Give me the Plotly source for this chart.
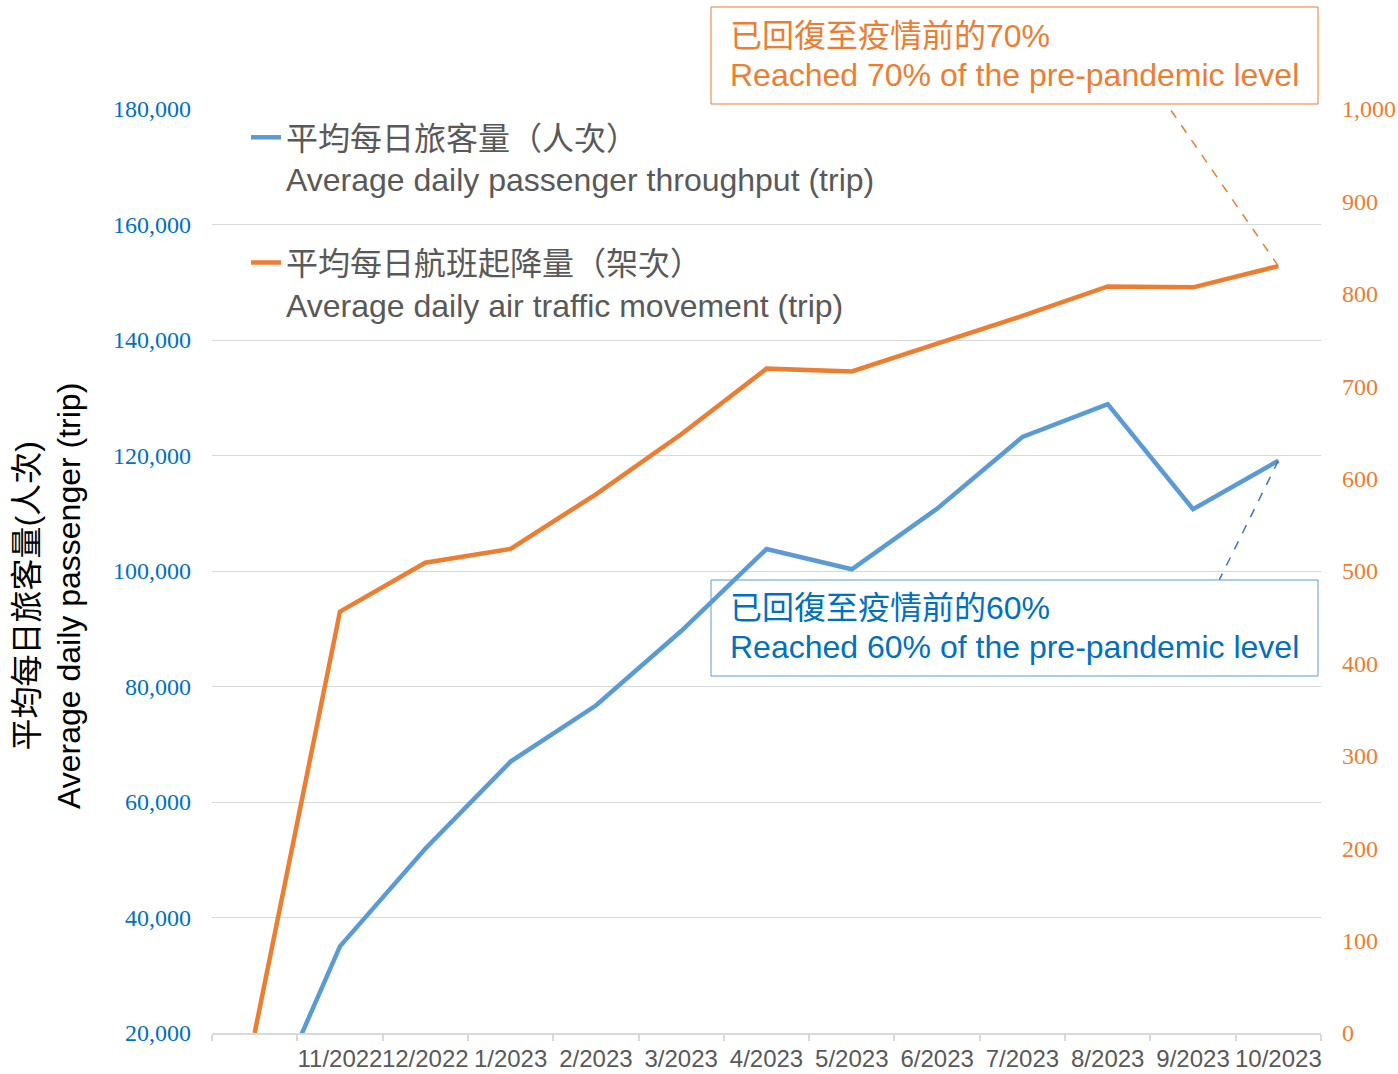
import plotly.graph_objects as go

# ---- data ----
categories = ["10/2022", "11/2022", "12/2022", "1/2023", "2/2023", "3/2023", "4/2023",
              "5/2023", "6/2023", "7/2023", "8/2023", "9/2023", "10/2023"]
tick_labels = ["", "11/2022", "12/2022", "1/2023", "2/2023", "3/2023", "4/2023",
               "5/2023", "6/2023", "7/2023", "8/2023", "9/2023", "10/2023"]
passengers = [1200, 35000, 51900, 67000, 76700, 89600, 103800,
              100300, 110800, 123200, 128900, 110700, 119100]
movements = [0, 456, 509, 524, 583, 648, 719,
             716, 746, 776, 808, 807, 830]

left_ticks = [20000, 40000, 60000, 80000, 100000, 120000, 140000, 160000, 180000]
right_ticks = [0, 100, 200, 300, 400, 500, 600, 700, 800, 900, 1000]

name_pax = "平均每日旅客量（人次）<br>Average daily passenger throughput (trip)"
name_atm = "平均每日航班起降量（架次）<br>Average daily air traffic movement (trip)"
note_atm = ["已回復至疫情前的70%", "Reached 70% of the pre-pandemic level"]
note_pax = ["已回復至疫情前的60%", "Reached 60% of the pre-pandemic level"]
ytitle = "平均每日旅客量(人次)<br>Average daily passenger (trip)"

# ---- styles ----
BLUE = "#5B9BD5"
ORANGE = "#ED7D31"
TXT_BLUE = "#0070C0"
GRAY = "#595959"
GRID = "#D9D9D9"
SANS = "Liberation Sans, Arial, Noto Sans CJK TC, sans-serif"
SERIF = "Liberation Serif, Times New Roman, serif"

W, H = 1398, 1074
ML, MR, MT, MB = 212, 77, 109, 41
PW, PH = W - ML - MR, H - MT - MB


def px(x):
    return (x - ML) / PW


def py(y):
    return (H - MB - y) / PH


fig = go.Figure()
fig.add_trace(go.Scatter(x=categories, y=passengers, name=name_pax, mode="lines",
                         line=dict(color=BLUE, width=4.5), yaxis="y", legendgroup="a"))
fig.add_trace(go.Scatter(x=categories, y=movements, name=name_atm, mode="lines",
                         line=dict(color=ORANGE, width=4.5), yaxis="y2", legendgroup="b"))

shapes = [
    # annotation boxes
    dict(type="rect", xref="paper", yref="paper", x0=px(711), x1=px(1318), y0=py(104), y1=py(7),
         line=dict(color=ORANGE, width=1), fillcolor="rgba(0,0,0,0)"),
    dict(type="rect", xref="paper", yref="paper", x0=px(711), x1=px(1318), y0=py(676), y1=py(580),
         line=dict(color=BLUE, width=1), fillcolor="rgba(0,0,0,0)"),
    # dashed connectors anchored at last data points
    dict(type="line", xref="x", yref="y2", xsizemode="pixel", ysizemode="pixel",
         xanchor=categories[-1], yanchor=movements[-1], x0=0, y0=0, x1=-111, y1=161,
         line=dict(color=ORANGE, width=1.5, dash="dash")),
    dict(type="line", xref="x", yref="y", xsizemode="pixel", ysizemode="pixel",
         xanchor=categories[-1], yanchor=passengers[-1], x0=0, y0=0, x1=-59, y1=-119,
         line=dict(color="#4472C4", width=1.5, dash="dash")),
]

annotations = []
for txt, yy in zip(note_atm, [36, 75]):
    annotations.append(dict(text=txt, xref="paper", yref="paper", x=px(728), y=py(yy),
                            xanchor="left", yanchor="middle", showarrow=False,
                            font=dict(family=SANS, size=32, color=ORANGE)))
for txt, yy in zip(note_pax, [608, 647]):
    annotations.append(dict(text=txt, xref="paper", yref="paper", x=px(728), y=py(yy),
                            xanchor="left", yanchor="middle", showarrow=False,
                            font=dict(family=SANS, size=32, color=TXT_BLUE)))
# left axis title
annotations.append(dict(text=ytitle, xref="paper", yref="paper", x=px(48), y=py(596),
                        xanchor="center", yanchor="middle", showarrow=False, textangle=-90,
                        font=dict(family=SANS, size=32, color="#000000")))

fig.update_layout(
    width=W, height=H,
    margin=dict(l=ML, r=MR, t=MT, b=MB, pad=0),
    paper_bgcolor="white", plot_bgcolor="white",
    showlegend=True,
    legend=dict(x=px(246), y=py(110), xanchor="left", yanchor="top",
                bgcolor="rgba(0,0,0,0)", font=dict(family=SANS, size=32, color=GRAY),
                tracegroupgap=39, valign="top", itemwidth=30),
    xaxis=dict(type="category", categoryorder="array", categoryarray=categories,
               tickmode="array", tickvals=categories, ticktext=tick_labels,
               range=[-0.5, len(categories) - 0.5], tickangle=0, automargin=False,
               tickson="boundaries", ticks="outside", ticklen=6, tickcolor=GRID, tickwidth=1.5,
               showline=True, linecolor=GRID, linewidth=1.5, showgrid=False, zeroline=False,
               tickfont=dict(family=SANS, size=24, color=GRAY), ticklabelstandoff=3),
    yaxis=dict(range=[left_ticks[0], left_ticks[-1]], tickmode="array", tickvals=left_ticks,
               tickformat=",", showgrid=True, gridcolor=GRID, gridwidth=1, zeroline=False,
               showline=False, ticks="", tickfont=dict(family=SERIF, size=24, color=TXT_BLUE),
               ticklabelstandoff=20, automargin=False),
    yaxis2=dict(range=[right_ticks[0], right_ticks[-1]], tickmode="array", tickvals=right_ticks,
                tickformat=",", overlaying="y", side="right", showgrid=False, zeroline=False,
                showline=False, ticks="", tickfont=dict(family=SERIF, size=24, color=ORANGE),
                ticklabelstandoff=20, automargin=False),
    shapes=shapes,
    annotations=annotations,
)

fig.write_html("out.html", config={"displayModeBar": False},
               post_script="document.body.style.margin='0';document.body.style.overflow='hidden';")
